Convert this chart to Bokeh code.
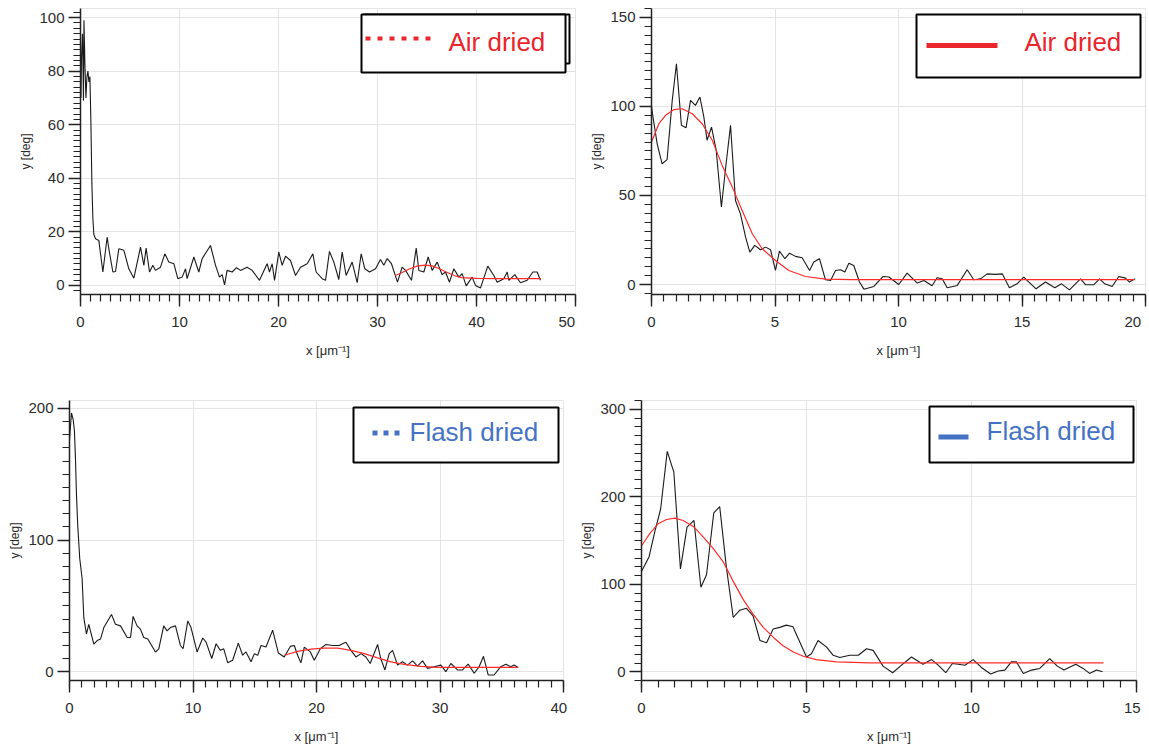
from bokeh.plotting import figure
from bokeh.layouts import row, column
from bokeh.models import SingleIntervalTicker, Range1d, Label
from bokeh.embed import file_html
from bokeh.resources import INLINE

RED_TXT = "#e8262c"
BLUE_TXT = "#4472c4"
FIT = "#ff2b2b"
DATA = "#1a1a1a"
XLABEL = "x [\u03bcm\u207b\u00b9]"
YLABEL = "y [deg]"

# ---------------- data ----------------
# Panel A: Air dried, full range
air_full_x = [0.0, 0.05, 0.1, 0.2, 0.3, 0.35, 0.45, 0.55, 0.65, 0.75, 0.85, 0.95, 1.05, 1.15, 1.25, 1.35,
              1.52, 1.85, 2.26, 2.69, 2.86, 3.27, 3.54, 3.87, 4.38, 4.88, 5.39, 6.06, 6.40, 6.63, 6.97,
              7.31, 7.58, 8.08, 8.52, 8.92, 9.43, 9.83, 10.27, 10.61, 10.77, 11.45, 11.95, 12.29, 13.13,
              13.64, 14.04, 14.31, 14.55, 14.81, 15.32, 15.76, 16.16, 16.83, 17.34, 18.08, 18.85, 19.09,
              19.36, 19.6, 20.03, 20.37, 20.71, 21.21, 21.72, 22.22, 22.9, 23.47, 23.8, 24.41, 24.75,
              25.15, 25.59, 26.09, 26.43, 26.83, 27.44, 27.95, 28.35, 28.72, 29.19, 29.8, 30.3, 30.64,
              30.98, 31.41, 32.02, 32.49, 32.83, 33.43, 33.91, 34.18, 34.68, 35.12, 35.52, 36.03, 36.53,
              36.87, 37.27, 37.71, 38.22, 38.55, 38.96, 39.56, 39.9, 40.4, 41.14, 41.75, 42.09, 42.76,
              43.1, 43.27, 43.87, 44.44, 45.12, 45.69, 46.13, 46.46]
air_full_y = [86, 70, 85, 94, 69, 99, 82, 70, 78, 80, 76, 78, 61, 38, 25, 19,
              17.4, 16.8, 5.0, 18.0, 13.7, 5.0, 5.2, 13.7, 13.1, 6.2, 2.7, 14.3, 7.5, 13.9, 5.0,
              7.5, 5.6, 6.8, 11.8, 8.7, 8.1, 2.5, 3.1, 6.2, 2.5, 10.6, 5.0, 10.0, 14.9,
              7.5, 3.1, 4.0, 0.2, 5.6, 5.0, 6.6, 5.6, 6.8, 5.6, 1.9, 8.1, 5.0,
              8.1, 1.9, 12.4, 7.5, 10.9, 9.3, 3.7, 6.8, 8.1, 11.8, 5.0, 2.5, 1.9,
              12.7, 8.7, 2.2, 12.4, 3.7, 8.7, 1.0, 11.8, 6.2, 5.0, 6.2, 9.7, 7.5,
              10.0, 8.1, 1.2, 6.8, 5.6, 1.9, 13.9, 5.6, 5.0, 10.6, 5.6, 8.7, 4.0,
              5.0, 1.2, 6.2, 3.1, 4.4, -0.2, 3.1, 0.0, -1.0, 7.2, 3.7, 1.2, 2.5,
              5.0, 1.9, 4.0, 1.0, 1.9, 5.0, 5.0, 1.9]
air_full_fit_x = [31.8, 32.5, 33.2, 34.0, 34.8, 35.5, 36.2, 37.0, 37.8, 38.5, 40.0, 42.0, 44.0, 46.5]
air_full_fit_y = [3.7, 4.8, 6.1, 7.2, 7.6, 7.3, 6.3, 4.9, 3.6, 2.9, 2.6, 2.5, 2.5, 2.5]

# Panel B: Air dried, zoomed range
air_zoom_x = [0.0, 0.05, 0.23, 0.43, 0.63, 0.84, 1.01, 1.21, 1.4, 1.58, 1.78, 1.96, 2.12, 2.25, 2.43,
              2.62, 2.83, 3.02, 3.2, 3.4, 3.6, 3.81, 3.98, 4.18, 4.41, 4.62, 4.82, 5.02, 5.18, 5.4,
              5.59, 5.83, 6.1, 6.4, 6.57, 6.8, 7.04, 7.25, 7.45, 7.65, 7.83, 7.99, 8.19, 8.42, 8.6,
              9.0, 9.37, 9.61, 10.01, 10.35, 10.76, 11.03, 11.36, 11.56, 11.77, 11.97, 12.38, 12.78,
              13.05, 13.32, 13.59, 13.9, 14.2, 14.49, 14.8, 15.07, 15.28, 15.57, 15.95, 16.33, 16.6,
              16.92, 17.37, 17.57, 17.91, 18.14, 18.35, 18.65, 18.92, 19.19, 19.35, 19.57]
air_zoom_y = [100, 95, 79, 67.8, 70.1, 103.4, 124, 89.4, 88.1, 103.4, 100.6, 105.3, 94, 81, 88.4,
              75.3, 43.5, 67.8, 89.4, 47.2, 39.7, 26.6, 18.2, 22, 19.5, 21, 19.5, 7.9, 18.8, 14.5,
              17.6, 15.8, 15, 7.9, 12.6, 14.5, 2.7, 2.3, 7.9, 8.3, 7.0, 12, 10.7, 1.4, -2.6,
              -1.1, 4.5, 4.2, 0.0, 6.4, 0.8, 2.3, -0.7, 3.8, 3.2, -1.8, -0.5, 8.3,
              2.7, 3.2, 6.0, 5.7, 6.0, -1.8, 0.4, 4.2, 1.4, -2.4, 1.4, -1.8, 0.4,
              -3.0, 3.2, -0.1, -0.1, 3.2, 0.4, -1.1, 4.5, 3.6, 1.4, 3.2]
air_zoom_fit_x = [0.0, 0.3, 0.57, 0.9, 1.24, 1.65, 2.05, 2.46, 2.86, 3.27, 3.67, 4.08, 4.48, 5.02,
                  5.56, 6.23, 7.04, 8.1, 19.57]
air_zoom_fit_y = [80, 90.3, 95, 98.2, 98.7, 95.9, 90.3, 81, 66.9, 54.7, 41.6, 28.5, 20.1, 13.5,
                  7.9, 4.5, 3.0, 2.7, 2.7]

# Panel C: Flash dried, full range
flash_full_x = [0.0, 0.16, 0.3, 0.4, 0.48, 0.56, 0.67, 0.83, 1.02, 1.16, 1.37, 1.56, 1.97, 2.24, 2.51,
                2.78, 3.4, 3.72, 4.13, 4.67, 4.94, 5.15, 5.47, 5.74, 6.01, 6.34, 6.96, 7.23, 7.63,
                7.9, 8.17, 8.58, 8.98, 9.2, 9.58, 9.84, 10.33, 10.79, 11.06, 11.52, 11.87, 12.22,
                12.49, 12.81, 13.21, 13.67, 14.02, 14.29, 14.7, 14.97, 15.24, 15.51, 15.91, 16.45,
                16.91, 17.39, 17.88, 18.2, 18.47, 18.74, 19.01, 19.5, 19.82, 20.31, 20.77, 21.3,
                21.84, 22.11, 22.38, 22.79, 23.19, 23.6, 24.0, 24.35, 24.95, 25.2, 25.54, 25.89,
                26.16, 26.56, 26.97, 27.37, 27.78, 28.18, 28.59, 28.99, 29.53, 30.07, 30.47, 30.88,
                31.42, 31.82, 32.28, 32.77, 33.17, 33.52, 33.9, 34.38, 34.92, 35.33, 35.73, 36.0, 36.33]
flash_full_y = [176, 196.5, 191.5, 182.8, 163, 135.5, 110.7, 85.8, 71, 41, 28.6, 36, 21, 23.6, 24.8,
                33.5, 43.5, 36, 34.8, 26, 26, 42, 34.8, 32.3, 26, 24.8, 14.9, 17.4, 34.8,
                31, 33.5, 34.8, 19.9, 17.4, 38.6, 33.5, 15, 25.6, 22.4, 10, 21.2, 16.2,
                17.4, 6.7, 8.7, 21.7, 12.5, 15, 7.5, 13.7, 12.5, 19.9, 18.7, 31.6,
                14.2, 11.2, 19.2, 19.9, 12.5, 6.7, 18.7, 15, 8.7, 17.4, 20.7, 19.9,
                19.9, 21.2, 22.4, 16.2, 11.2, 13.7, 11.2, 6.2, 20.7, 10, 1.3, 13.7,
                16.2, 5.0, 7.5, 5.0, 8.2, 4.2, 8.2, 2.5, 3.8, 5.0, 0, 6.2,
                1.3, 1.3, 5.7, -1.2, 3.8, 11.7, -2.5, -2.5, 3.8, 5.7, 3.8, 5.0, 3.2]
flash_full_fit_x = [17.39, 18.47, 19.55, 20.63, 21.71, 22.79, 23.87, 24.95, 26.02, 27.1, 28.45, 29.8, 36.33]
flash_full_fit_y = [12.5, 15.4, 17.2, 17.9, 17.9, 16.2, 13.7, 10.5, 7.5, 5.5, 4.0, 3.2, 3.2]

# Panel D: Flash dried, zoomed range
flash_zoom_x = [0.0, 0.23, 0.40, 0.58, 0.78, 0.98, 1.18, 1.38, 1.59, 1.80, 1.97, 2.19, 2.37, 2.57,
                2.78, 2.98, 3.18, 3.38, 3.59, 3.79, 3.99, 4.19, 4.39, 4.59, 4.80, 5.0, 5.15, 5.35,
                5.61, 5.81, 6.01, 6.31, 6.57, 6.82, 7.02, 7.32, 7.61, 7.88, 8.18, 8.53, 8.79, 8.99,
                9.22, 9.42, 9.6, 9.8, 10.05, 10.3, 10.58, 10.81, 11.01, 11.21, 11.36, 11.57, 11.82,
                12.07, 12.37, 12.6, 12.8, 13.16, 13.38, 13.58, 13.79, 13.97]
flash_zoom_y = [114.6, 131.5, 159.7, 186, 251.8, 228.1, 117.6, 165.3, 172.9, 96.6, 110.8, 181.5, 188.6, 120.2,
                62, 70.3, 72.5, 63.9, 35.7, 33.1, 48.9, 50.7, 53.3, 51.5, 33.8, 16.9, 20.6, 35.7,
                28.2, 18.8, 16.2, 18.8, 18.8, 26.3, 24.4, 6.4, -1.1, 7.5, 16.9, 8.6, 13.9, 7.5,
                -1.1, 9.4, 8.6, 7.5, 13.9, 4.9, -2.6, 0.8, 1.9, 11.3, 11.3, -1.9, 1.9,
                3.8, 15, 6.4, 1.9, 8.6, 3.8, -1.9, 1.9, 0.0]
flash_zoom_fit_x = [0.0, 0.25, 0.5, 0.76, 1.01, 1.26, 1.57, 1.87, 2.17, 2.47, 2.78, 3.08, 3.38, 3.69,
                    3.99, 4.29, 4.6, 4.9, 5.3, 5.91, 6.92, 14.0]
flash_zoom_fit_y = [144, 157.8, 169.1, 174, 175.5, 172.9, 166.1, 154.1, 140.9, 125.9, 103.3, 82.7, 65.8, 50.7,
                    39.5, 29.7, 22.5, 17.7, 13.9, 11.3, 10.1, 10.1]

legend_air = "Air dried"
legend_flash = "Flash dried"

FIG_SPACE = "\u2007"


def make_panel(x, y, fx, fy, xr, yr, xint, yint, xlast, width, height, bl, br, bt, bb):
    p = figure(width=width, height=height, x_range=Range1d(*xr), y_range=Range1d(*yr),
               output_backend="svg", toolbar_location=None,
               min_border_left=bl, min_border_right=br, min_border_top=bt, min_border_bottom=bb)
    p.xaxis[0].ticker = SingleIntervalTicker(interval=xint, num_minor_ticks=10)
    p.yaxis[0].ticker = SingleIntervalTicker(interval=yint, num_minor_ticks=10)
    for ax in (p.xaxis[0], p.yaxis[0]):
        ax.axis_line_color = "#222222"
        ax.axis_line_width = 1.5
        ax.major_tick_in = 0
        ax.major_tick_out = 12
        ax.minor_tick_in = 0
        ax.minor_tick_out = 7
        ax.major_tick_line_color = "#222222"
        ax.minor_tick_line_color = "#222222"
        ax.major_tick_line_width = 1.4
        ax.minor_tick_line_width = 1.2
        ax.major_label_text_font_size = "15px"
        ax.major_label_text_color = "#2b2b2b"
        ax.axis_label_text_font_style = "normal"
        ax.axis_label_text_color = "#2b2b2b"
    p.xaxis.axis_label = XLABEL
    p.yaxis.axis_label = YLABEL
    p.xaxis.axis_label_text_font_size = "13px"
    p.yaxis.axis_label_text_font_size = "12px"
    p.xaxis.major_label_standoff = 6
    p.yaxis.major_label_standoff = 4
    p.xaxis.axis_label_standoff = 10
    p.yaxis.axis_label_standoff = 3
    # last x tick label ends at the frame edge, as in the original
    p.xaxis.major_label_overrides = {xlast: str(xlast) + FIG_SPACE}
    p.grid.grid_line_color = "#e4e4e4"

    p.line(x, y, line_color=DATA, line_width=1.1)
    p.line(fx, fy, line_color=FIT, line_width=1.2)

    fw = width - bl - br
    fh = height - bt - bb
    return p, fw, fh


TEXT_SHIFT = -9  # correction for the label baseline


def add_legend(p, xr, yr, fw, fh, box, line, txt, label, color, dash, lw, shadow=None):
    sx = (xr[1] - xr[0]) / fw
    sy = (yr[1] - yr[0]) / fh

    def X(d):
        return xr[1] + d * sx

    def Y(d):
        return yr[1] - d * sy

    if shadow is not None:
        lefts, rights = [X(shadow[0]), X(box[0])], [X(shadow[1]), X(box[1])]
        tops, bottoms = [Y(shadow[2]), Y(box[2])], [Y(shadow[3]), Y(box[3])]
    else:
        lefts, rights, tops, bottoms = [X(box[0])], [X(box[1])], [Y(box[2])], [Y(box[3])]
    p.quad(left=lefts, right=rights, top=tops, bottom=bottoms,
           fill_color="white", line_color="black", line_width=2.0)
    p.line([X(line[0]), X(line[1])], [Y(line[2]), Y(line[2])], line_color=color, line_width=lw,
           line_dash=dash, line_cap="butt")
    p.add_layout(Label(x=X(txt[0]), y=Y(txt[1] + TEXT_SHIFT), text=label, text_baseline="alphabetic",
                       text_align="left", text_font_size="26px", text_color=color))


# Panel A (figure spans x 0..583)
xrA, yrA = (0, 50), (-3.4, 103.4)
pA, fwA, fhA = make_panel(air_full_x, air_full_y, air_full_fit_x, air_full_fit_y, xrA, yrA,
                          10, 20, 50, 583, 390, 80, 8, 8, 96)
add_legend(pA, xrA, yrA, fwA, fhA, (-214, -10, 6, 64), (-210, -143, 30), (-127, 42),
           legend_air, RED_TXT, "5 7", 4, shadow=(-212, -6, 6, 55))

# Panel B (figure spans x 583..1149)
xrB, yrB = (0, 20), (-5.6, 155)
pB, fwB, fhB = make_panel(air_zoom_x, air_zoom_y, air_zoom_fit_x, air_zoom_fit_y, xrB, yrB,
                          5, 50, 20, 566, 390, 68, 4, 8, 96)
add_legend(pB, xrB, yrB, fwB, fhB, (-229, -5, 6, 69), (-219, -148, 37), (-121, 42),
           legend_air, RED_TXT, "solid", 5)

# Panel C (figure spans x 0..575)
xrC, yrC = (0, 40), (-6.7, 206)
pC, fwC, fhC = make_panel(flash_full_x, flash_full_y, flash_full_fit_x, flash_full_fit_y, xrC, yrC,
                          10, 100, 40, 575, 356, 69, 12, 10, 62)
add_legend(pC, xrC, yrC, fwC, fhC, (-210, -5, 7, 63), (-191, -164, 33), (-154, 41),
           legend_flash, BLUE_TXT, "5 6", 5)

# Panel D (figure spans x 575..1149)
xrD, yrD = (0, 15), (-10, 310)
pD, fwD, fhD = make_panel(flash_zoom_x, flash_zoom_y, flash_zoom_fit_x, flash_zoom_fit_y, xrD, yrD,
                          5, 100, 15, 574, 356, 66, 13, 10, 62)
add_legend(pD, xrD, yrD, fwD, fhD, (-207, -3, 6, 63), (-198, -168, 37), (-150, 40),
           legend_flash, BLUE_TXT, "solid", 5)

layout = column(row(pA, pB), row(pC, pD))
open("out.html", "w").write(file_html(layout, INLINE))
